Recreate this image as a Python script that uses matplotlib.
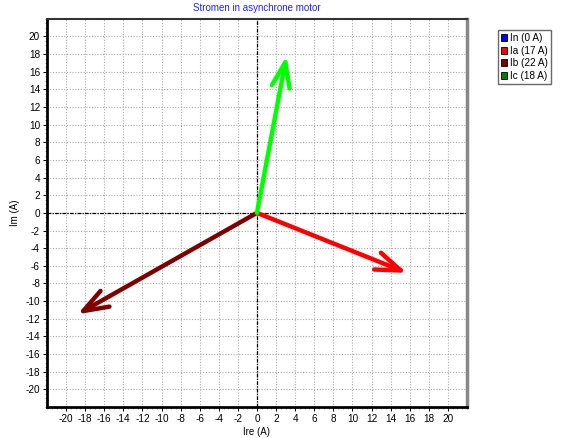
import numpy as np
import matplotlib
matplotlib.use('agg')
from matplotlib import pyplot as plt
from matplotlib.patches import Patch
from matplotlib.ticker import MultipleLocator

plt.rcParams['font.family'] = ['Liberation Sans', 'DejaVu Sans']
plt.rcParams['axes.unicode_minus'] = False

# phasor currents, real and imaginary parts in A
names = ['In', 'Ia', 'Ib', 'Ic']
re_parts = [0.0, 15.7, -18.8, 3.1]
im_parts = [0.0, -6.8, -11.5, 17.8]
legend_colors = ['#0000ff', '#ff0000', '#800000', '#008000']
arrow_colors = ['#0000ff', '#ff0000', '#800000', '#00ff00']

ticks = list(range(-20, 21, 2))

fig = plt.figure(figsize=(5.66, 4.38), dpi=100)
ax = fig.add_axes([0.083, 0.071, 0.742, 0.886])

ax.set_xlim(-22, 22)
ax.set_ylim(-22, 22)
ax.set_xticks(ticks)
ax.set_yticks(ticks)
ax.xaxis.set_minor_locator(MultipleLocator(0.5))
ax.yaxis.set_minor_locator(MultipleLocator(0.5))
ax.tick_params(which='major', length=3, width=0.7, labelsize=7.2, pad=2)
ax.tick_params(which='minor', length=1.2, width=0.4, color='#555555')

ax.grid(True, which='major', color='#aaaaaa', linestyle=(0, (1, 1.5)), linewidth=0.8)
ax.set_axisbelow(True)

# origin cross
ax.axhline(0, color='black', linestyle=(0, (3, 1, 1, 1)), linewidth=0.9, zorder=1)
ax.axvline(0, color='black', linestyle=(0, (3, 1, 1, 1)), linewidth=0.9, zorder=1)

for spine in ['left', 'bottom']:
    ax.spines[spine].set_linewidth(2)
    ax.spines[spine].set_color('black')
ax.spines['top'].set_linewidth(1.5)
ax.spines['top'].set_color('#333333')
ax.spines['right'].set_linewidth(2.5)
ax.spines['right'].set_color('#888888')

for x, y, c in zip(re_parts, im_parts, arrow_colors):
    if np.hypot(x, y) == 0:
        continue
    ax.annotate('', xy=(x, y), xytext=(0, 0),
                arrowprops=dict(arrowstyle='->, head_length=1.8, head_width=0.65',
                                color=c, lw=3.2, capstyle='round',
                                shrinkA=0, shrinkB=0), zorder=3)

ax.set_title('Stromen in asynchrone motor', fontsize=7, color='#2020ff', pad=6)
ax.set_xlabel('Ire (A)', fontsize=7, labelpad=2)
ax.set_ylabel('Im (A)', fontsize=7, labelpad=4)

mags = [np.hypot(x, y) for x, y in zip(re_parts, im_parts)]
handles = [Patch(facecolor=c, edgecolor='black', linewidth=0.6) for c in legend_colors]
labels = [f'{n} ({m:.0f} A)' for n, m in zip(names, mags)]
fig.legend(handles, labels, loc='upper left', bbox_to_anchor=(0.879, 0.932),
           fontsize=7.2, frameon=True, fancybox=False, edgecolor='#444444',
           handlelength=0.6, handleheight=0.7, handletextpad=0.3,
           labelspacing=0.25, borderpad=0.35, borderaxespad=0)

fig.savefig('out.png', dpi=100, facecolor='white')
